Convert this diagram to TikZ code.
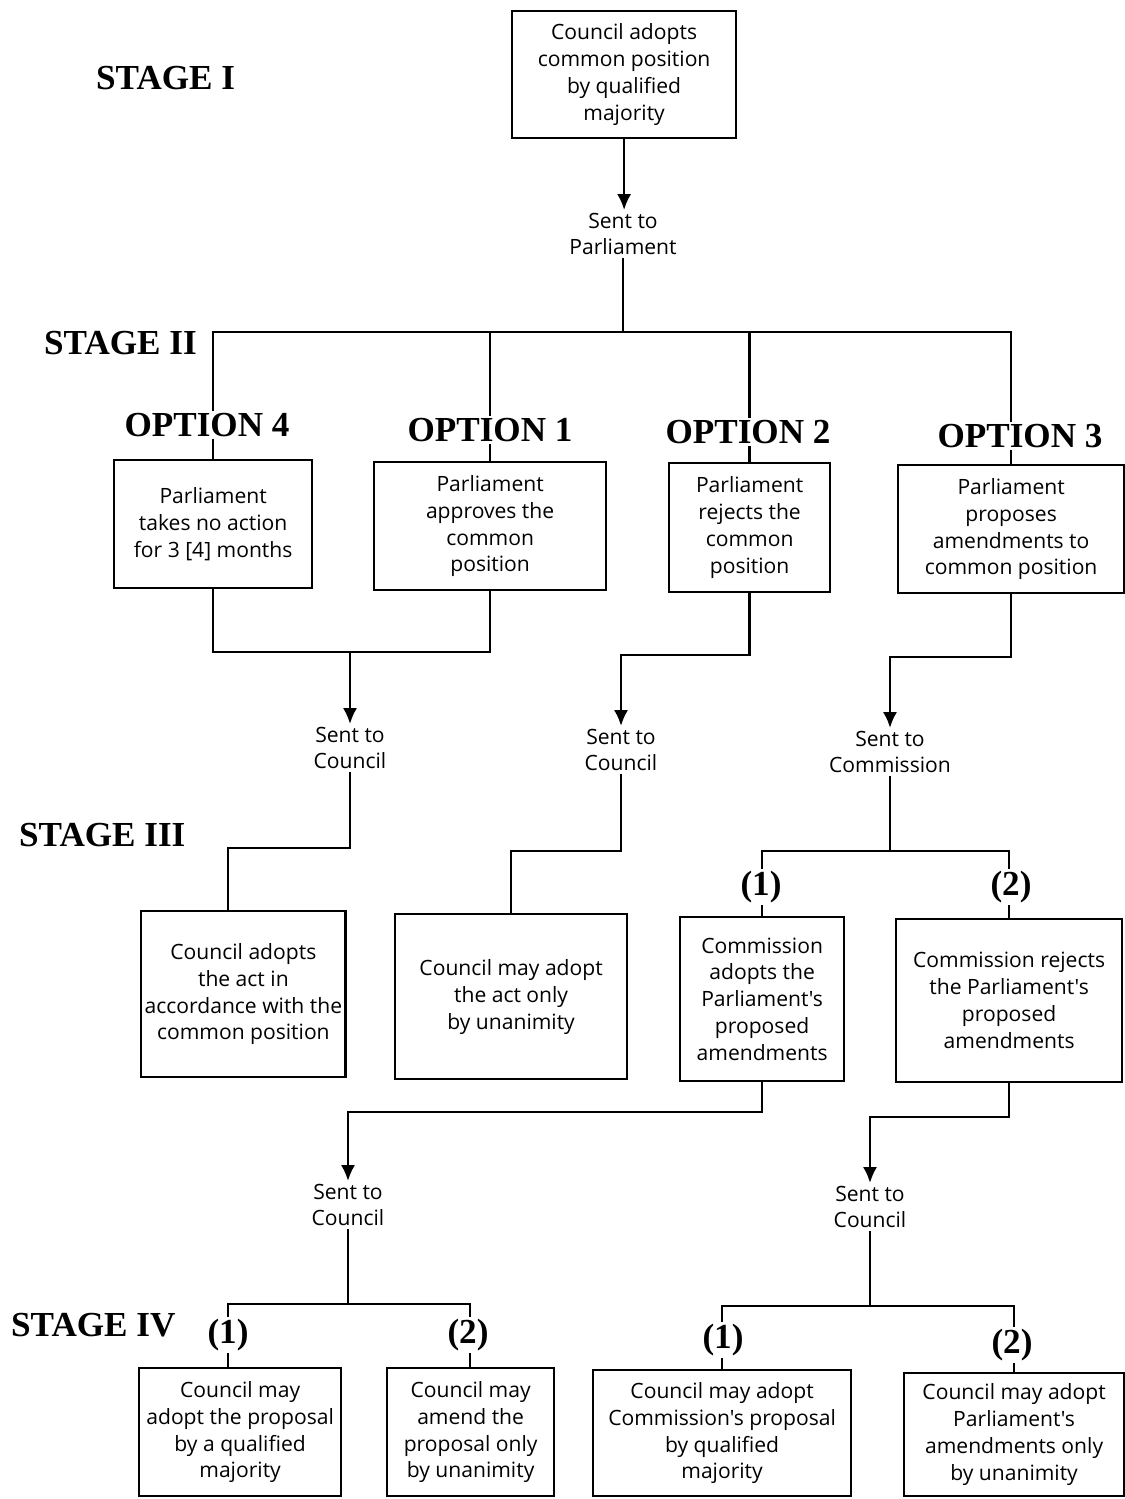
\documentclass[tikz,border=0pt]{standalone}
\usepackage{fontspec}
\setmainfont{Liberation Serif}
\newfontfamily\boxfamily{Open Sans}
\usetikzlibrary{calc,arrows.meta}
\newcommand{\boxfont}{\boxfamily\fontsize{12}{15.3}\selectfont}
\newcommand{\titlefont}{\bfseries\fontsize{20}{24}\selectfont}
\tikzstyle{cadre} = [rectangle, draw=black, line width=1.3pt, align=center, font=\boxfont, inner sep=2pt]
\tikzstyle{envoi} = [align=center, font=\boxfont, inner sep=1pt]
\tikzstyle{etage} = [font=\titlefont, anchor=west, inner sep=0pt]
\tikzstyle{choix} = [font=\titlefont, fill=white, inner sep=1pt]
\tikzstyle{fleche} = [-{Latex[length=9pt,width=8pt]}]

\begin{document}
\begin{tikzpicture}[x=0.02cm, y=-0.02cm, line width=1.3pt]
        \useasboundingbox (0,0) rectangle (1125,1499);

        % stage I
        \node (S1) [etage] at (95,78) {STAGE I};
        \node (top) [cadre, anchor=north west, minimum width=4.48cm, minimum height=2.54cm] at (511,10) {Council adopts\\common position\\by qualified\\majority};
        \node (sp) [envoi] at (623,234) {Sent to\\Parliament};
        \draw [fleche] (top.south) -- (top.south |- sp.north);

        % stage II
        \node (S2) [etage] at (43,343) {STAGE II};
        \node (opt4) [cadre, anchor=north west, minimum width=3.96cm, minimum height=2.56cm] at (113,459) {Parliament\\takes no action\\for 3 [4] months};
        \node (opt1) [cadre, anchor=north west, minimum width=4.64cm, minimum height=2.56cm] at (373,461) {Parliament\\approves the\\common\\position};
        \node (opt2) [cadre, anchor=north west, minimum width=3.22cm, minimum height=2.58cm] at (668,462) {Parliament\\rejects the\\common\\position};
        \node (opt3) [cadre, anchor=north west, minimum width=4.52cm, minimum height=2.56cm] at (897,464) {Parliament\\proposes\\amendments to\\common position};

        \coordinate (bus) at (623,332);
        \draw (sp.south) -- (bus);
        \draw (opt4.north) |- (bus) -| (opt3.north);
        \draw (opt1.north) -- (opt1.north |- bus);
        \draw (opt2.north) -- (opt2.north |- bus);
        \node (o4) [choix] at (207,425) {OPTION 4};
        \node (o1) [choix] at (490,430) {OPTION 1};
        \node (o2) [choix] at (748,432) {OPTION 2};
        \node (o3) [choix] at (1020,436) {OPTION 3};

        \node (sc1) [envoi] at (350,748) {Sent to\\Council};
        \node (sc2) [envoi] at (621,750) {Sent to\\Council};
        \node (scm) [envoi] at (890,752) {Sent to\\Commission};
        \coordinate (j1) at (350,652);
        \coordinate (j2) at (621,655);
        \coordinate (j3) at (890,657);
        \draw (opt4.south) |- (j1) -| (opt1.south);
        \draw [fleche] (j1) -- (sc1.north);
        \draw [fleche] (opt2.south) |- (j2) -- (sc2.north);
        \draw [fleche] (opt3.south) |- (j3) -- (scm.north);

        % stage III
        \node (S3) [etage] at (18,835) {STAGE III};
        \node (s3a) [cadre, anchor=north west, minimum width=4.04cm, minimum height=3.32cm] at (140,910) {Council adopts\\the act in\\accordance with the\\common position};
        \node (s3b) [cadre, anchor=north west, minimum width=4.64cm, minimum height=3.30cm] at (394,913) {Council may adopt\\the act only\\by unanimity};
        \node (s3c) [cadre, anchor=north west, minimum width=3.28cm, minimum height=3.28cm] at (679,916) {Commission\\adopts the\\Parliament's\\proposed\\amendments};
        \node (s3d) [cadre, anchor=north west, minimum width=4.52cm, minimum height=3.26cm] at (895,918) {Commission rejects\\the Parliament's\\proposed\\amendments};

        \coordinate (k1) at (228,848);
        \coordinate (k2) at (511,851);
        \coordinate (k3) at (890,851);
        \draw (sc1.south) |- (k1) -- (k1 |- s3a.north);
        \draw (sc2.south) |- (k2) -- (k2 |- s3b.north);
        \draw (scm.south) -- (k3);
        \draw (s3c.north) |- (k3) -| (s3d.north);
        \node (c1) [choix] at (761,887) {(1)};
        \node (c2) [choix] at (1011,887) {(2)};

        \node (sc3) [envoi] at (348,1205) {Sent to\\Council};
        \node (sc4) [envoi] at (870,1207) {Sent to\\Council};
        \coordinate (j4) at (348,1112);
        \coordinate (j5) at (870,1117);
        \draw [fleche] (s3c.south) |- (j4) -- (sc3.north);
        \draw [fleche] (s3d.south) |- (j5) -- (sc4.north);

        % stage IV
        \node (S4) [etage] at (10,1325) {STAGE IV};
        \node (s4a) [cadre, anchor=north west, minimum width=4.04cm, minimum height=2.56cm] at (138,1367) {Council may\\adopt the proposal\\by a qualified\\majority};
        \node (s4b) [cadre, anchor=north west, minimum width=3.34cm, minimum height=2.56cm] at (386,1367) {Council may\\amend the\\proposal only\\by unanimity};
        \node (s4c) [cadre, anchor=north west, minimum width=5.16cm, minimum height=2.52cm] at (592,1369) {Council may adopt\\Commission's proposal\\by qualified\\majority};
        \node (s4d) [cadre, anchor=north west, minimum width=4.40cm, minimum height=2.46cm] at (903,1372) {Council may adopt\\Parliament's\\amendments only\\by unanimity};

        \coordinate (l1) at (228,1304);
        \coordinate (m1) at (348,1304);
        \coordinate (r1) at (470,1304);
        \coordinate (m2) at (870,1306);
        \draw (sc3.south) -- (m1);
        \draw (l1 |- s4a.north) -- (l1) -- (r1) -- (r1 |- s4b.north);
        \draw (sc4.south) -- (m2);
        \draw (s4c.north) |- (m2) -| (s4d.north);
        \node (d1) [choix] at (228,1335) {(1)};
        \node (d2) [choix] at (468,1335) {(2)};
        \node (d3) [choix] at (723,1340) {(1)};
        \node (d4) [choix] at (1012,1345) {(2)};

    \end{tikzpicture}
\end{document}
